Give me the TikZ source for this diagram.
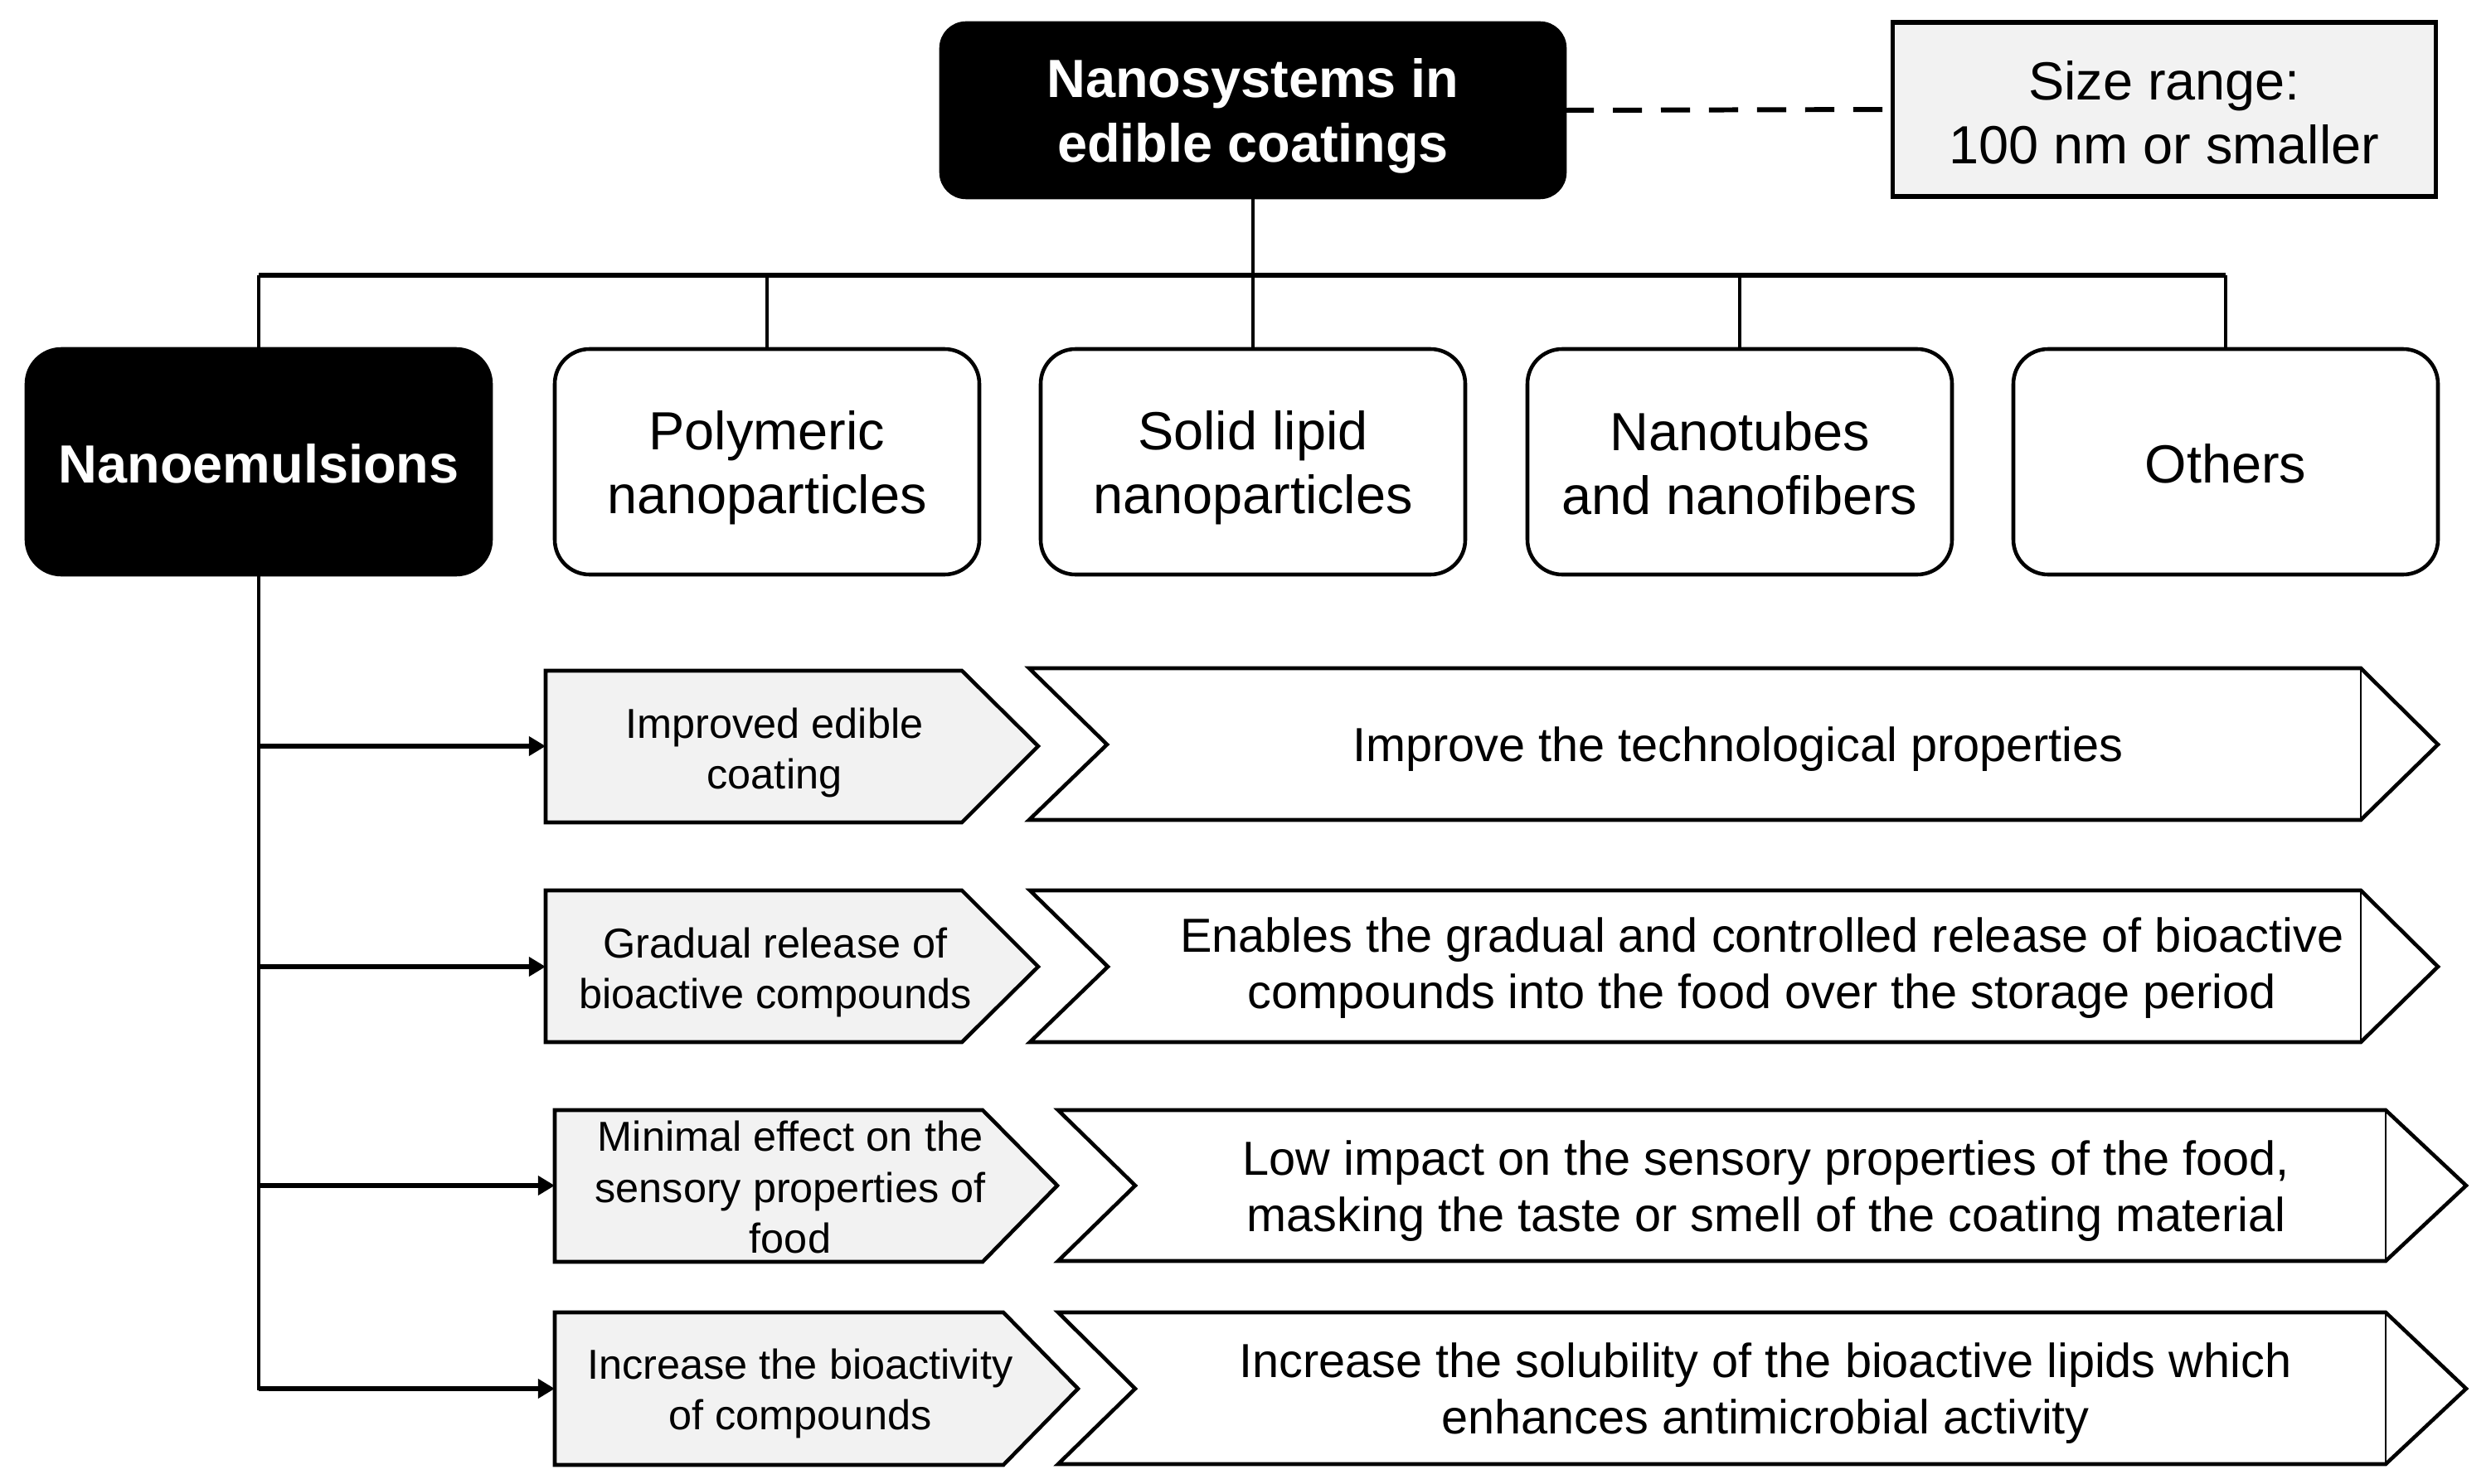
\documentclass[tikz,border=0pt]{standalone}
\usepackage{fontspec}
\setmainfont{Liberation Sans}
\usetikzlibrary{arrows.meta,positioning}

\definecolor{boxgray}{HTML}{F2F2F2}

\tikzset{
  catbox/.style={draw=black, line width=1.3pt, rounded corners=0.42cm,
    minimum width=5.12cm, minimum height=2.72cm, inner sep=0pt, outer sep=0pt},
  darkbox/.style={catbox, fill=black},
  sizebox/.style={draw=black, line width=1.5pt, fill=boxgray, minimum width=6.55cm,
    minimum height=2.10cm, inner sep=0pt, outer sep=0pt},
  boxtext/.style={align=center, inner sep=0pt, yshift=-0.07cm,
    font=\fontsize{18.45}{22}\selectfont},
  darktext/.style={boxtext, text=white, font=\bfseries\fontsize{18.45}{22}\selectfont},
  link/.style={line width=1.2pt},
  barline/.style={line width=1.7pt},
  dashline/.style={line width=1.7pt, dash pattern=on 10pt off 6.5pt},
  spine/.style={line width=1.4pt},
  feed/.style={line width=1.7pt, -{Triangle[length=5.7pt,width=6.4pt]}},
  graybox/.style={draw=black, fill=boxgray, line width=1.3pt},
  chevron/.style={draw=black, fill=white, line width=1.3pt},
  tipline/.style={line width=0.8pt},
  graytext/.style={align=center, inner sep=0pt, font=\fontsize{14.35}{17.6}\selectfont},
  chevtext/.style={align=center, inner sep=0pt, font=\fontsize{16.4}{19.3}\selectfont}
}

\begin{document}
\begin{tikzpicture}[line join=miter]
\useasboundingbox (0,0) rectangle (30.04,-17.90);

% top level
\node[darkbox, minimum width=7.52cm, minimum height=2.10cm, rounded corners=0.3cm,
  label={[darktext]center:Nanosystems in\\edible coatings}] (nanosys) at (15.11,-1.33) {};
\node[sizebox, label={[boxtext, yshift=0.03cm]center:Size range:\\100 nm or smaller}]
  (size) at (26.10,-1.32) {};
\draw[dashline] (nanosys.east) -- (size.west);

% categories
\coordinate (bar) at (0,-3.32);
\node[darkbox, minimum width=5.60cm, label={[darktext, yshift=0.05cm]center:Nanoemulsions}]
  (emul) at (3.12,-5.57) {};
\node[catbox, label={[boxtext]center:Polymeric\\nanoparticles}] (poly) at (9.25,-5.57) {};
\node[catbox, label={[boxtext]center:Solid lipid\\nanoparticles}] (sln) at (15.11,-5.57) {};
\node[catbox, label={[boxtext, yshift=0.05cm]center:Nanotubes\\and nanofibers}] (tubes) at (20.98,-5.57) {};
\node[catbox, label={[boxtext, yshift=0.05cm]center:Others}] (others) at (26.84,-5.57) {};

\draw[link] (nanosys.south) -- (nanosys.south |- bar);
\draw[barline] (emul.north |- bar) -- (others.north |- bar);
\draw[link] (emul.north) -- (emul.north |- bar);
\draw[link] (poly.north) -- (poly.north |- bar);
\draw[link] (sln.north) -- (sln.north |- bar);
\draw[link] (tubes.north) -- (tubes.north |- bar);
\draw[link] (others.north) -- (others.north |- bar);

% first row
\filldraw[graybox] (6.58,-8.09) -- (11.60,-8.09) -- (12.52,-9.00) -- (11.60,-9.92) -- (6.58,-9.92) -- cycle;
\coordinate (imp1w) at (6.58,-9.00);
\node[graytext] (imp1) at (9.34,-9.08) {Improved edible\\coating};
\filldraw[chevron] (12.41,-8.06) -- (28.47,-8.06) -- (29.40,-8.98) -- (28.47,-9.89) -- (12.41,-9.89) -- (13.35,-8.98) -- cycle;
\draw[tipline] (28.47,-8.06) -- (28.47,-9.89);
\node[chevtext] (eff1) at (20.96,-9.04) {Improve the technological properties};

% second row
\filldraw[graybox] (6.58,-10.74) -- (11.60,-10.74) -- (12.52,-11.66) -- (11.60,-12.57) -- (6.58,-12.57) -- cycle;
\coordinate (imp2w) at (6.58,-11.66);
\node[graytext] (imp2) at (9.35,-11.73) {Gradual release of\\bioactive compounds};
\filldraw[chevron] (12.42,-10.74) -- (28.47,-10.74) -- (29.40,-11.66) -- (28.47,-12.57) -- (12.42,-12.57) -- (13.36,-11.66) -- cycle;
\draw[tipline] (28.47,-10.74) -- (28.47,-12.57);
\node[chevtext] (eff2) at (21.25,-11.68) {Enables the gradual and controlled release of bioactive\\compounds into the food over the storage period};

% third row
\filldraw[graybox] (6.69,-13.39) -- (11.85,-13.39) -- (12.75,-14.30) -- (11.85,-15.22) -- (6.69,-15.22) -- cycle;
\coordinate (imp3w) at (6.69,-14.30);
\node[graytext] (imp3) at (9.53,-14.32) {Minimal effect on the\\sensory properties of\\food};
\filldraw[chevron] (12.76,-13.39) -- (28.77,-13.39) -- (29.74,-14.30) -- (28.77,-15.21) -- (12.76,-15.21) -- (13.69,-14.30) -- cycle;
\draw[tipline] (28.77,-13.39) -- (28.77,-15.21);
\node[chevtext] (eff3) at (21.30,-14.37) {Low impact on the sensory properties of the food,\\masking the taste or smell of the coating material};

% fourth row
\filldraw[graybox] (6.69,-15.83) -- (12.10,-15.83) -- (13.00,-16.75) -- (12.10,-17.67) -- (6.69,-17.67) -- cycle;
\coordinate (imp4w) at (6.69,-16.75);
\node[graytext] (imp4) at (9.65,-16.81) {Increase the bioactivity\\of compounds};
\filldraw[chevron] (12.76,-15.83) -- (28.77,-15.83) -- (29.74,-16.75) -- (28.77,-17.66) -- (12.76,-17.66) -- (13.69,-16.75) -- cycle;
\draw[tipline] (28.77,-15.83) -- (28.77,-17.66);
\node[chevtext] (eff4) at (21.29,-16.81) {Increase the solubility of the bioactive lipids which\\enhances antimicrobial activity};

% nanoemulsion branches
\coordinate (sp1) at (emul.south |- imp1w);
\coordinate (sp2) at (emul.south |- imp2w);
\coordinate (sp3) at (emul.south |- imp3w);
\coordinate (sp4) at (emul.south |- imp4w);
\draw[spine] (emul.south) -- ([yshift=-0.7pt]sp4);
\draw[feed] (sp1) -- (imp1w);
\draw[feed] (sp2) -- (imp2w);
\draw[feed] (sp3) -- (imp3w);
\draw[feed] (sp4) -- (imp4w);

\end{tikzpicture}
\end{document}
